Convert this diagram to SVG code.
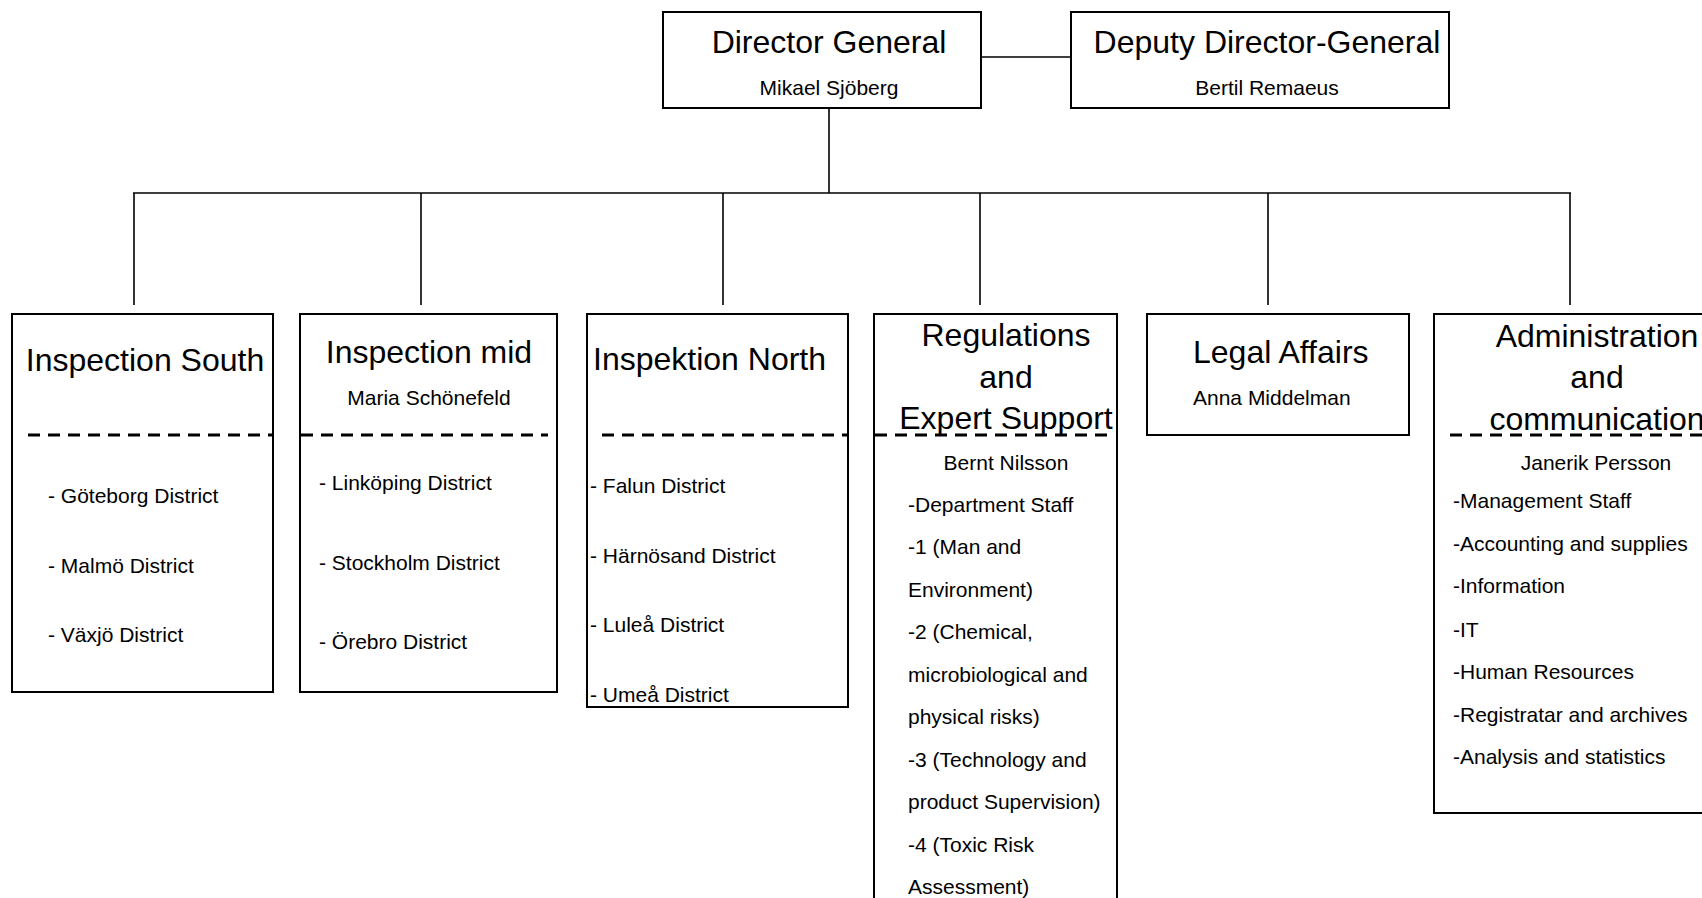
<svg xmlns="http://www.w3.org/2000/svg" width="1702" height="898" viewBox="0 0 1702 898">
<style>
  .box{fill:#fff;stroke:#000;stroke-width:2}
  .dash{stroke:#000;stroke-width:3;stroke-dasharray:12 8;fill:none}
  .con{stroke:#000;stroke-width:1.6;fill:none}
  text{font-family:"Liberation Sans",Arial,sans-serif;fill:#000}
  .t{font-size:32px}
  .s{font-size:21px}
  .c{text-anchor:middle}
</style>
<rect width="1702" height="898" fill="#fff"/>
<g id="connectors">
  <line class="con" x1="981" y1="57" x2="1071" y2="57"/>
  <line class="con" x1="829" y1="108" x2="829" y2="193"/>
  <line class="con" x1="133" y1="193" x2="1571" y2="193"/>
  <line class="con" x1="134" y1="193" x2="134" y2="305"/>
  <line class="con" x1="421" y1="193" x2="421" y2="305"/>
  <line class="con" x1="723" y1="193" x2="723" y2="305"/>
  <line class="con" x1="980" y1="193" x2="980" y2="305"/>
  <line class="con" x1="1268" y1="193" x2="1268" y2="305"/>
  <line class="con" x1="1570" y1="193" x2="1570" y2="305"/>
</g>
<g id="director-general">
  <rect class="box" x="663" y="12" width="318" height="96"/>
  <text class="t c" x="829" y="53">Director General</text>
  <text class="s c" x="829" y="95">Mikael Sjöberg</text>
</g>
<g id="deputy-director-general">
  <rect class="box" x="1071" y="12" width="378" height="96"/>
  <text class="t c" x="1267" y="53">Deputy Director-General</text>
  <text class="s c" x="1267" y="95">Bertil Remaeus</text>
</g>
<g id="inspection-south">
  <rect class="box" x="12" y="314" width="261" height="378"/>
  <text class="t c" x="145" y="371">Inspection South</text>
  <line class="dash" x1="28" y1="435" x2="272" y2="435"/>
  <text class="s" x="48" y="503">- Göteborg District</text>
  <text class="s" x="48" y="573">- Malmö District</text>
  <text class="s" x="48" y="642">- Växjö District</text>
</g>
<g id="inspection-mid">
  <rect class="box" x="300" y="314" width="257" height="378"/>
  <text class="t c" x="429" y="363">Inspection mid</text>
  <text class="s c" x="429" y="405">Maria Schönefeld</text>
  <line class="dash" x1="301" y1="435" x2="548" y2="435"/>
  <text class="s" x="319" y="490">- Linköping District</text>
  <text class="s" x="319" y="570">- Stockholm District</text>
  <text class="s" x="319" y="649">- Örebro District</text>
</g>
<g id="inspektion-north">
  <rect class="box" x="587" y="314" width="261" height="393"/>
  <text class="t" x="593" y="370">Inspektion North</text>
  <line class="dash" x1="602" y1="435" x2="847" y2="435"/>
  <text class="s" x="590" y="493">- Falun District</text>
  <text class="s" x="590" y="563">- Härnösand District</text>
  <text class="s" x="590" y="632">- Luleå District</text>
  <text class="s" x="590" y="702">- Umeå District</text>
</g>
<g id="regulations">
  <rect class="box" x="874" y="314" width="243" height="620"/>
  <text class="t c" x="1006" y="346">Regulations</text>
  <text class="t c" x="1006" y="388">and</text>
  <text class="t c" x="1006" y="429">Expert Support</text>
  <line class="dash" x1="875" y1="435" x2="1112" y2="435"/>
  <text class="s c" x="1006" y="470">Bernt Nilsson</text>
  <text class="s" x="908" y="512">-Department Staff</text>
  <text class="s" x="908" y="554">-1 (Man and</text>
  <text class="s" x="908" y="597">Environment)</text>
  <text class="s" x="908" y="639">-2 (Chemical,</text>
  <text class="s" x="908" y="682">microbiological and</text>
  <text class="s" x="908" y="724">physical risks)</text>
  <text class="s" x="908" y="767">-3 (Technology and</text>
  <text class="s" x="908" y="809">product Supervision)</text>
  <text class="s" x="908" y="852">-4 (Toxic Risk</text>
  <text class="s" x="908" y="894">Assessment)</text>
</g>
<g id="legal-affairs">
  <rect class="box" x="1147" y="314" width="262" height="121"/>
  <text class="t" x="1193" y="363">Legal Affairs</text>
  <text class="s" x="1193" y="405">Anna Middelman</text>
</g>
<g id="administration">
  <rect class="box" x="1434" y="314" width="330" height="499"/>
  <text class="t c" x="1597" y="347">Administration</text>
  <text class="t c" x="1597" y="388">and</text>
  <text class="t c" x="1597" y="430">communication</text>
  <line class="dash" x1="1450" y1="435" x2="1702" y2="435"/>
  <text class="s c" x="1596" y="470">Janerik Persson</text>
  <text class="s" x="1453" y="508">-Management Staff</text>
  <text class="s" x="1453" y="551">-Accounting and supplies</text>
  <text class="s" x="1453" y="593">-Information</text>
  <text class="s" x="1453" y="637">-IT</text>
  <text class="s" x="1453" y="679">-Human Resources</text>
  <text class="s" x="1453" y="722">-Registratar and archives</text>
  <text class="s" x="1453" y="764">-Analysis and statistics</text>
</g>
</svg>
